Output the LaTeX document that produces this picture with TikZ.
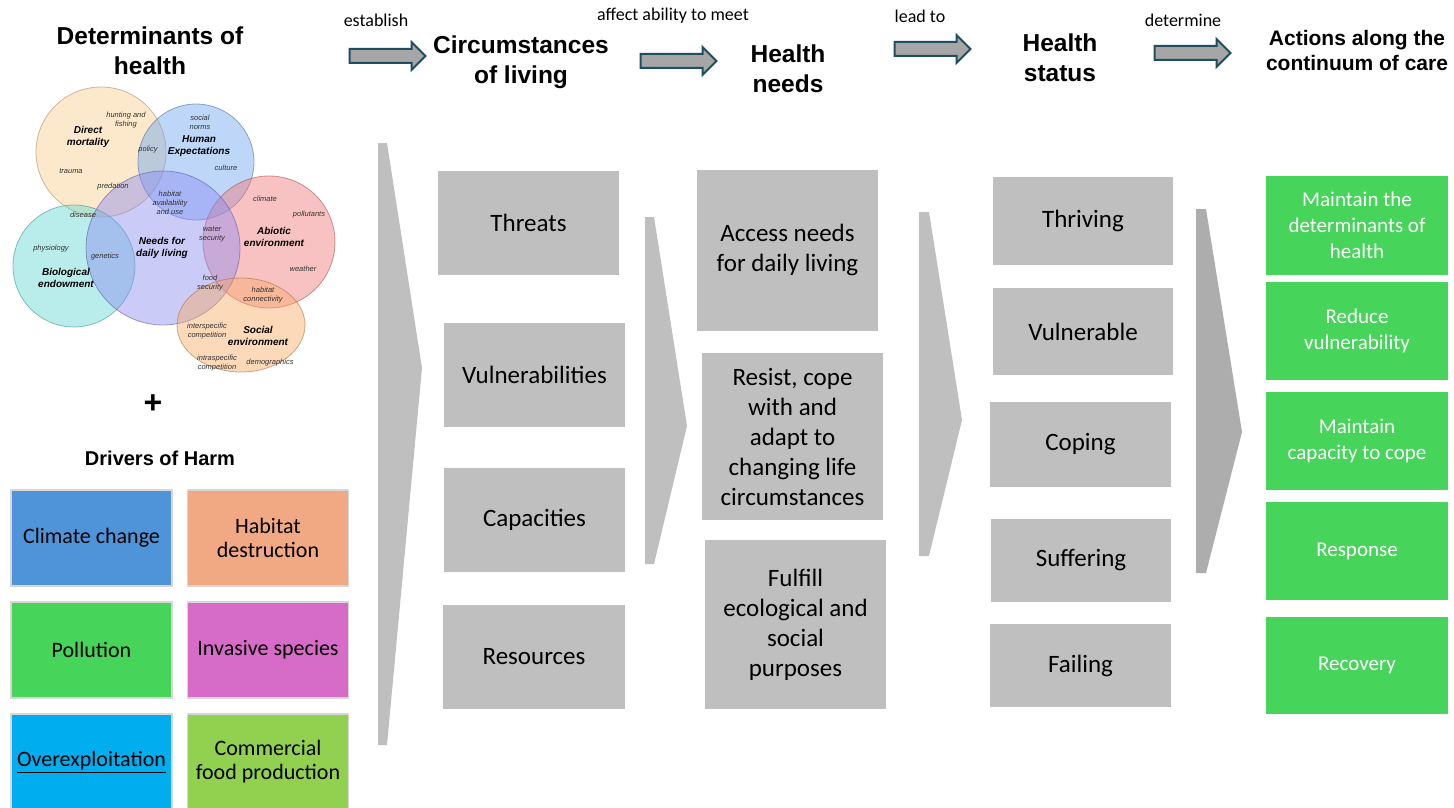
\documentclass[tikz,border=0pt]{standalone}
\usepackage{fontspec}
\setmainfont{Carlito}
\newfontfamily\arialfont{Liberation Sans}
\usepackage{tikz}
\usetikzlibrary{shapes.arrows}

\definecolor{boxgray}{RGB}{191,191,191}
\definecolor{chevdark}{RGB}{173,173,173}
\definecolor{actgreen}{RGB}{71,212,90}
\definecolor{arrowline}{RGB}{31,78,96}
\definecolor{arrowfill}{RGB}{166,166,166}
\definecolor{climblue}{RGB}{79,148,216}
\definecolor{habpeach}{RGB}{241,169,131}
\definecolor{invpink}{RGB}{215,108,200}
\definecolor{overcyan}{RGB}{0,174,239}
\definecolor{commgreen}{RGB}{146,208,80}
\definecolor{drvborder}{RGB}{215,215,215}
\definecolor{vmort}{RGB}{248,205,140}
\definecolor{vexpect}{RGB}{110,165,240}
\definecolor{vabiotic}{RGB}{242,120,120}
\definecolor{vbio}{RGB}{100,215,210}
\definecolor{vneeds}{RGB}{140,140,240}
\definecolor{vsocial}{RGB}{246,170,100}

\begin{document}
\begin{tikzpicture}[x=1pt,y=-1pt,
	graybox/.style={fill=boxgray, align=center, inner sep=0pt, font=\fontsize{25}{30}\selectfont},
	greenbox/.style={fill=actgreen, text=white, align=center, inner sep=0pt, minimum width=182pt, font=\fontsize{21}{26}\selectfont},
	drvbox/.style={draw=drvborder, line width=1.5pt, align=center, minimum width=161pt, minimum height=96pt, font=\fontsize{22}{24}\selectfont},
	heading/.style={align=center, font=\arialfont\bfseries\fontsize{24.5}{30}\selectfont},
	verb/.style={font=\fontsize{18}{20}\selectfont},
	blockarr/.style={single arrow, fill=arrowfill, draw=arrowline, line width=2pt, minimum height=76pt, single arrow head extend=7pt, inner xsep=0pt, inner ysep=6pt},
	vcircle/.style={fill opacity=.45, draw opacity=.6, line width=.8pt},
	vlabel/.style={align=center, inner sep=0pt, text=black!80, font=\arialfont\itshape\fontsize{7.5}{9}\selectfont},
	vtitle/.style={align=center, inner sep=0pt, font=\arialfont\bfseries\itshape\fontsize{10}{12}\selectfont}]
	\useasboundingbox (0,0) rectangle (1454,808);

	% headings and verbs
	\node[heading] (det) at (150,51) {Determinants of\\health};
	\node[heading] (circ) at (521,62) {Circumstances\\of living};
	\node[heading] (hneeds) at (788,69) {Health\\needs};
	\node[heading] (hstatus) at (1060,58) {Health\\status};
	\node[heading, font=\arialfont\bfseries\fontsize{21}{25}\selectfont] (actions) at (1357,50) {Actions along the\\continuum of care};
	\node[verb] (establish) at (376,20) {establish};
	\node[verb] (affect) at (673,16) {affect ability to meet};
	\node[verb] (leadto) at (920,16) {lead to};
	\node[verb] (determine) at (1183,20) {determine};
	\node[blockarr] (a1) at (384,56) {};
	\node[blockarr] (a2) at (675,61) {};
	\node[blockarr] (a3) at (929,49) {};
	\node[blockarr] (a4) at (1189,53) {};

	% venn diagram
	\filldraw[vcircle, fill=vmort, draw=vmort!70!black] (101,152) circle (65pt);
	\filldraw[vcircle, fill=vexpect, draw=vexpect!70!black] (196,162) circle (58pt);
	\filldraw[vcircle, fill=vabiotic, draw=vabiotic!70!black] (269,242) circle (66pt);
	\filldraw[vcircle, fill=vbio, draw=vbio!70!black] (74,266) circle (61pt);
	\filldraw[vcircle, fill=vneeds, draw=vneeds!70!black] (163,248) circle (77pt);
	\filldraw[vcircle, fill=vsocial, draw=vsocial!70!black] (241,325) ellipse (64pt and 47pt);
	\node[vtitle] (mort) at (88,137) {Direct\\mortality};
	\node[vtitle] (expect) at (199,146) {Human\\Expectations};
	\node[vtitle] (abiotic) at (274,237) {Abiotic\\environment};
	\node[vtitle] (needs) at (162,248) {Needs for\\daily living};
	\node[vtitle] (bio) at (66,278) {Biological\\endowment};
	\node[vtitle] (social) at (258,336) {Social\\environment};
	\node[vlabel] at (126,120) {hunting and\\fishing};
	\node[vlabel] at (148,150) {policy};
	\node[vlabel] at (71,171) {trauma};
	\node[vlabel] at (113,187) {predation};
	\node[vlabel] at (83,215) {disease};
	\node[vlabel] at (200,122) {social\\norms};
	\node[vlabel] at (226,168) {culture};
	\node[vlabel] at (170,203) {habitat\\availability\\and use};
	\node[vlabel] at (265,199) {climate};
	\node[vlabel] at (309,215) {pollutants};
	\node[vlabel] at (212,234) {water\\security};
	\node[vlabel] at (51,249) {physiology};
	\node[vlabel] at (105,257) {genetics};
	\node[vlabel] at (303,269) {weather};
	\node[vlabel] at (210,283) {food\\security};
	\node[vlabel] at (263,295) {habitat\\connectivity};
	\node[vlabel] at (207,331) {interspecific\\competition};
	\node[vlabel] at (217,363) {intraspecific\\competition};
	\node[vlabel] at (270,363) {demographics};
	\node[font=\arialfont\bfseries\fontsize{32}{32}\selectfont] (plus) at (153,404) {+};

	% drivers of harm
	\node[heading, font=\arialfont\bfseries\fontsize{20}{24}\selectfont] (drivers) at (160,458) {Drivers of Harm};
	\node[drvbox, fill=climblue] (climate) at (91.5,538) {Climate change};
	\node[drvbox, fill=habpeach] (habitat) at (268,538) {Habitat\\destruction};
	\node[drvbox, fill=actgreen] (pollution) at (91.5,650) {Pollution};
	\node[drvbox, fill=invpink] (invasive) at (268,650) {Invasive species};
	\node[drvbox, fill=overcyan] (overexp) at (91.5,762) {\underline{Overexploitation}};
	\node[drvbox, fill=commgreen] (commercial) at (268,762) {Commercial\\food production};

	% chevrons
	\fill[boxgray] (378,143) -- (387,143) -- (422,368) -- (387,745) -- (378,745) -- cycle;
	\fill[boxgray] (645,217) -- (654,217) -- (687,426) -- (654,564) -- (645,564) -- cycle;
	\fill[boxgray] (919,212) -- (929,212) -- (962,420) -- (929,556) -- (919,556) -- cycle;
	\fill[chevdark] (1196,209) -- (1206,209) -- (1242,432) -- (1206,573) -- (1196,573) -- cycle;

	% circumstances of living
	\node[graybox, minimum width=181pt, minimum height=104pt] (threats) at (528.5,223) {Threats};
	\node[graybox, minimum width=181pt, minimum height=104pt] (vulns) at (534.5,375) {Vulnerabilities};
	\node[graybox, minimum width=181pt, minimum height=104pt] (caps) at (534.5,520) {Capacities};
	\node[graybox, minimum width=182pt, minimum height=104pt] (resources) at (534,657) {Resources};

	% health needs
	\node[graybox, minimum width=181pt, minimum height=161pt] (access) at (787.5,250) {Access needs\\for daily living};
	\node[graybox, minimum width=181pt, minimum height=167pt] (resist) at (792.5,436.5) {Resist, cope\\with and\\adapt to\\changing life\\circumstances};
	\node[graybox, minimum width=181pt, minimum height=169pt] (fulfill) at (795.5,624.5) {Fulfill\\ecological and\\social\\purposes};

	% health status
	\node[graybox, minimum width=180pt, minimum height=88pt] (thriving) at (1083,221) {Thriving};
	\node[graybox, minimum width=180pt, minimum height=87pt] (vulnerable) at (1083,331.5) {Vulnerable};
	\node[graybox, minimum width=181pt, minimum height=85pt] (coping) at (1080.5,444.5) {Coping};
	\node[graybox, minimum width=180pt, minimum height=83pt] (suffering) at (1081,560.5) {Suffering};
	\node[graybox, minimum width=181pt, minimum height=83pt] (failing) at (1080.5,665.5) {Failing};

	% actions
	\node[greenbox, minimum height=99pt] (maintain) at (1357,225.5) {Maintain the\\determinants of\\health};
	\node[greenbox, minimum height=98pt] (reduce) at (1357,331) {Reduce\\vulnerability};
	\node[greenbox, minimum height=98pt] (capacity) at (1357,441) {Maintain\\capacity to cope};
	\node[greenbox, minimum height=98pt] (response) at (1357,551) {Response};
	\node[greenbox, minimum height=97pt] (recovery) at (1357,665.5) {Recovery};
\end{tikzpicture}
\end{document}
